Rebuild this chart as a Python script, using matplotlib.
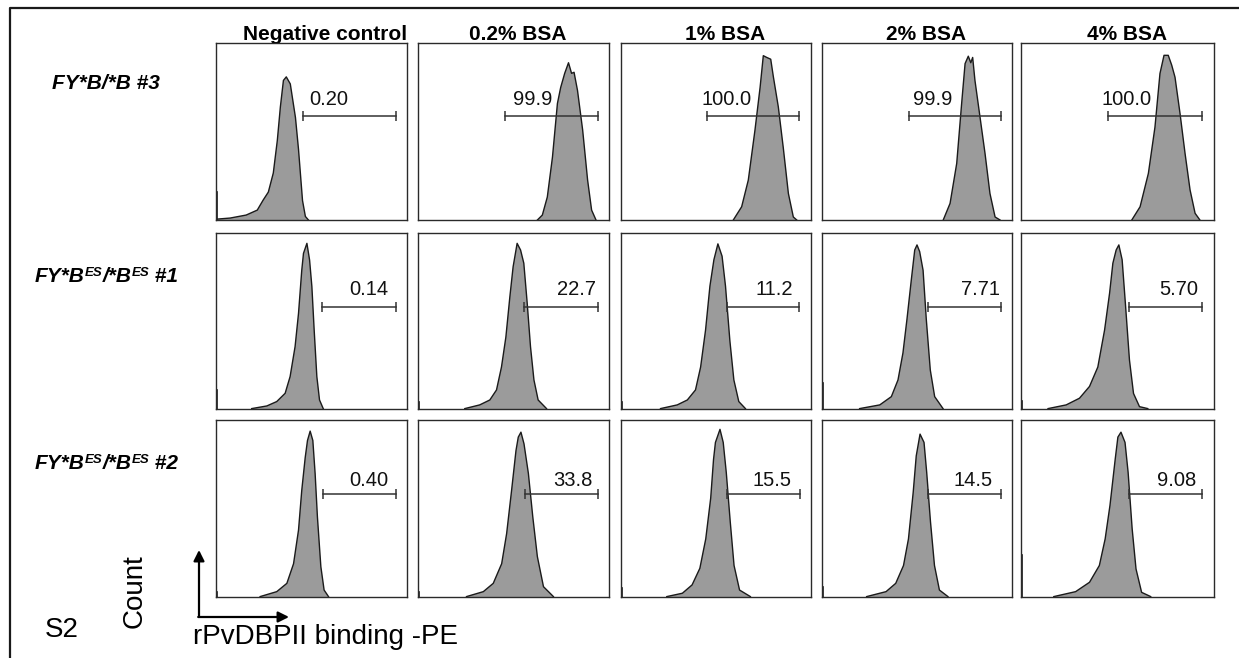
import matplotlib.pyplot as plt

W, H = 1239, 658

col_titles = ['Negative control', '0.2% BSA', '1% BSA', '2% BSA', '4% BSA']
row_ids = [' #3', ' #1', ' #2']

gate_values = [
    ['0.20', '99.9', '100.0', '99.9', '100.0'],
    ['0.14', '22.7', '11.2', '7.71', '5.70'],
    ['0.40', '33.8', '15.5', '14.5', '9.08'],
]
gate_start = [
    [45.5, 45.8, 45.0, 45.6, 45.3],
    [55.6, 55.6, 55.6, 55.6, 55.8],
    [55.8, 55.8, 55.7, 55.7, 55.9],
]
gate_end = [
    [94.2, 94.0, 93.7, 94.0, 94.0],
    [94.2, 94.0, 93.7, 94.0, 94.0],
    [94.0, 94.0, 94.0, 94.0, 94.0],
]

# histogram outlines (x: % of channel range, y: % of panel height)
hist_x = [
    [
        [0.5, 7.4, 15.8, 21.6, 24.7, 27.4, 30.0, 32.1, 33.7, 35.3, 36.8, 38.9, 41.6, 43.2, 45.3, 46.8, 48.4],
        [62.5, 65.1, 67.7, 70.4, 73.0, 74.7, 76.8, 78.8, 80.4, 81.7, 83.5, 86.2, 88.8, 90.9, 93.2],
        [59.1, 63.5, 67.0, 70.5, 73.2, 74.9, 76.7, 78.8, 80.2, 82.8, 85.4, 88.1, 90.7, 92.5],
        [63.8, 67.4, 70.9, 73.5, 75.3, 77.0, 78.3, 79.3, 80.5, 83.2, 85.8, 88.4, 91.1, 93.7],
        [57.4, 61.7, 66.0, 69.4, 72.0, 74.1, 76.3, 78.1, 79.8, 82.4, 85.0, 87.6, 90.2, 92.7],
    ],
    [
        [18.7, 26.6, 31.8, 36.2, 38.8, 41.4, 43.2, 44.9, 45.8, 47.6, 49.0, 50.2, 51.4, 52.8, 54.2, 56.3],
        [24.5, 32.3, 37.6, 41.1, 43.7, 46.0, 48.1, 49.8, 51.9, 53.7, 55.4, 57.2, 58.9, 60.7, 62.9, 67.3],
        [20.8, 29.6, 34.9, 39.2, 41.9, 44.5, 46.8, 48.9, 51.0, 53.2, 55.0, 57.3, 59.4, 62.0, 65.5],
        [19.8, 30.4, 36.5, 40.0, 42.6, 44.7, 47.0, 48.8, 50.0, 51.4, 53.2, 54.9, 57.0, 59.3, 63.7],
        [14.0, 23.4, 30.3, 35.5, 39.8, 43.3, 45.9, 47.6, 49.3, 50.7, 52.4, 54.1, 56.2, 58.3, 61.4, 65.7],
    ],
    [
        [23.1, 31.8, 37.1, 40.6, 43.2, 44.9, 46.7, 47.9, 49.3, 50.7, 51.9, 53.1, 54.9, 56.6, 58.9],
        [25.4, 34.2, 39.4, 43.8, 46.4, 49.0, 51.3, 52.5, 53.9, 55.5, 57.8, 60.1, 62.5, 65.7, 70.9],
        [24.1, 32.3, 37.4, 41.5, 44.6, 47.2, 48.7, 49.7, 52.1, 53.8, 55.4, 57.5, 59.5, 62.4, 68.1],
        [23.5, 33.7, 38.8, 42.9, 45.5, 48.0, 49.6, 51.6, 53.7, 55.1, 57.1, 59.2, 61.8, 66.3],
        [17.0, 28.3, 35.5, 40.6, 43.6, 46.1, 48.8, 50.2, 51.8, 53.9, 55.5, 57.6, 59.6, 62.5, 67.2],
    ],
]
hist_y = [
    [
        [0.5, 1.1, 2.8, 5.6, 11.3, 15.8, 26.6, 45.0, 64.0, 79.0, 81.0, 77.0, 58.0, 40.0, 11.0, 2.0, 0.0],
        [0.0, 2.8, 13.0, 35.6, 66.0, 75.0, 83.0, 89.0, 83.0, 83.6, 73.4, 51.0, 22.6, 5.6, 0.0],
        [0.0, 7.5, 22.6, 50.8, 75.0, 93.0, 92.0, 91.0, 81.0, 64.0, 41.0, 15.0, 1.7, 0.0],
        [0.0, 9.4, 32.0, 66.0, 88.5, 92.7, 89.0, 92.0, 79.0, 58.0, 37.7, 15.0, 1.7, 0.0],
        [0.0, 7.5, 26.4, 52.5, 82.9, 93.2, 93.2, 87.6, 80.8, 60.3, 37.7, 17.0, 3.8, 0.0],
    ],
    [
        [0.4, 1.9, 4.4, 9.1, 18.6, 35.6, 54.5, 79.0, 88.6, 94.3, 84.8, 69.7, 45.0, 18.6, 5.3, 0.0],
        [0.4, 2.5, 5.3, 11.0, 24.0, 41.0, 64.0, 81.0, 94.3, 90.5, 83.0, 60.0, 35.6, 16.7, 5.3, 0.4],
        [0.4, 2.5, 5.3, 11.0, 24.0, 45.0, 70.0, 85.0, 94.0, 87.0, 70.0, 39.0, 16.7, 4.4, 0.4],
        [0.4, 2.5, 7.2, 16.7, 32.0, 51.0, 73.5, 90.5, 93.4, 89.6, 79.0, 51.0, 22.3, 7.2, 0.4],
        [0.4, 2.5, 6.3, 13.0, 24.0, 45.0, 66.0, 83.0, 90.5, 93.4, 85.0, 60.0, 28.0, 9.0, 1.5, 0.4],
    ],
    [
        [0.4, 3.2, 7.9, 19.0, 38.0, 60.5, 79.0, 88.7, 94.0, 88.7, 70.0, 45.5, 17.3, 4.1, 0.4],
        [0.4, 3.2, 7.9, 19.0, 36.0, 60.5, 83.0, 90.6, 93.4, 86.8, 70.0, 45.5, 23.0, 6.0, 0.4],
        [0.4, 2.3, 7.0, 16.4, 33.0, 56.0, 78.0, 87.6, 95.0, 87.6, 70.7, 42.7, 18.0, 4.1, 0.4],
        [0.4, 3.2, 7.9, 18.0, 33.0, 59.4, 80.0, 92.3, 87.6, 70.7, 42.7, 18.0, 4.1, 0.4],
        [0.4, 3.2, 8.5, 18.0, 33.0, 52.0, 78.0, 90.6, 93.4, 87.6, 70.7, 38.7, 16.0, 2.8, 0.4],
    ],
]
# events piled up in the first channel
left_spike = [
    [16, 0, 0, 0, 0],
    [11, 4, 4, 15, 5],
    [3, 3, 5, 6, 24],
]

gate_y = [58.8, 58.0, 58.3]
label_y = [64.8, 65.0, 63.2]
label_right = [
    [69.5, 70.4, 68.8, 68.6, 67.6],
    [90.4, 93.0, 90.4, 93.7, 91.6],
    [90.0, 91.4, 89.6, 89.8, 90.8],
]

plt.rcParams['font.family'] = ['Liberation Sans', 'DejaVu Sans']

fig = plt.figure(figsize=(W / 100, H / 100), dpi=100)

bg = fig.add_axes([0, 0, 1, 1])
bg.set_xlim(0, W)
bg.set_ylim(H, 0)
bg.axis('off')

# outer frame (only top and left are visible)
bg.plot([10, 10, W + 5], [H + 5, 8, 8], color='#1a1a1a', lw=1.6)

col_left = [216, 418, 621, 822, 1021]
col_width = [191, 191, 190, 190, 193]
row_top = [43.3, 233.3, 420.5]
row_height = [176.7, 176.0, 176.8]
title_x = [325, 518, 725, 926, 1127]

for c in range(5):
    bg.text(title_x[c], 40.5, col_titles[c], ha='center', va='baseline',
            fontsize=15, fontweight='bold')

for r in range(3):
    for c in range(5):
        left = col_left[c] / W
        bottom = 1 - (row_top[r] + row_height[r]) / H
        ax = fig.add_axes([left, bottom, col_width[c] / W, row_height[r] / H])
        ax.set_xlim(0, 100)
        ax.set_ylim(0, 100)
        ax.set_xticks([])
        ax.set_yticks([])
        for sp in ax.spines.values():
            sp.set_color('#2a2a2a')
            sp.set_linewidth(1.0)

        xs = hist_x[r][c]
        ys = hist_y[r][c]
        ax.fill_between(xs, ys, 0, facecolor='#9b9b9b', edgecolor='none')
        ax.plot(xs, ys, color='#1a1a1a', lw=1.0)
        if left_spike[r][c] > 0:
            ax.plot([0.5, 0.5], [0, left_spike[r][c]], color='#1a1a1a', lw=1.2)

        ax.plot([gate_start[r][c], gate_end[r][c]], [gate_y[r], gate_y[r]],
                color='#333333', lw=1.1, marker='|', ms=7, mew=1.1)
        ax.text(label_right[r][c], label_y[r], gate_values[r][c], ha='right',
                va='baseline', fontsize=14.5, color='#111111')

# row labels, built piece by piece for the superscripts
lab_style = dict(fontsize=15, fontweight='bold', fontstyle='italic')
sup_style = dict(fontsize=9.5, fontweight='bold', fontstyle='italic')

t = bg.text(52, 89, 'FY*B/*B' + row_ids[0], ha='left', va='baseline', **lab_style)

for r, yb in zip([1, 2], [282, 469]):
    t1 = bg.text(35, yb, 'FY*B', ha='left', va='baseline', **lab_style)
    s1 = bg.annotate('ES', xy=(1, 1), xycoords=t1, ha='left', va='top', **sup_style)
    t2 = bg.annotate('/*B', xy=(1, 0), xycoords=(s1, t1), ha='left', va='bottom', **lab_style)
    s2 = bg.annotate('ES', xy=(1, 1), xycoords=t2, ha='left', va='top', **sup_style)
    bg.annotate(row_ids[r], xy=(1, 0), xycoords=(s2, t1), ha='left', va='bottom', **lab_style)

# axis hint arrows
bg.annotate('', xy=(199, 550), xytext=(199, 617),
            arrowprops=dict(arrowstyle='-|>', color='black', lw=1.6, mutation_scale=16,
                            shrinkA=0, shrinkB=0))
bg.annotate('', xy=(289, 617), xytext=(198.2, 617),
            arrowprops=dict(arrowstyle='-|>', color='black', lw=1.6, mutation_scale=16,
                            shrinkA=0, shrinkB=0))

bg.text(135, 591, 'Count', rotation=90, ha='center', va='center', fontsize=20)
bg.text(45, 637, 'S2', ha='left', va='baseline', fontsize=20)
bg.text(193, 644, 'rPvDBPII binding -PE', ha='left', va='baseline', fontsize=20)

fig.savefig('out.png', dpi=100)
